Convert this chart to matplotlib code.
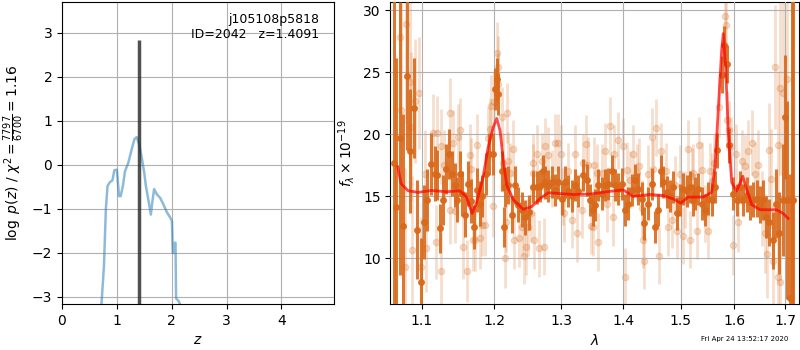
import numpy as np
import matplotlib
matplotlib.use("Agg")
import matplotlib.pyplot as plt
from matplotlib.ticker import FixedLocator, NullLocator, FixedFormatter

# p(z) curve (left panel)
z_grid = [0.72, 0.765, 0.80, 0.83, 0.875, 0.92, 0.955, 1.0, 1.015, 1.04, 1.07, 1.11,
          1.15, 1.21, 1.27, 1.32, 1.36, 1.41, 1.46, 1.50, 1.53, 1.58, 1.62, 1.645,
          1.68, 1.73, 1.79, 1.85, 1.91, 1.975, 2.005, 2.02, 2.035, 2.05, 2.07, 2.08,
          2.13, 2.15]
log_pz = [-3.16, -2.3, -1.0, -0.48, -0.39, -0.35, -0.12, -0.11, -0.33, -0.71, -0.71, -0.48,
          -0.14, 0.05, 0.35, 0.58, 0.63, 0.46, 0.12, -0.18, -0.48, -0.83, -1.13, -0.86,
          -0.55, -0.67, -0.75, -0.9, -1.07, -1.2, -1.28, -2.0, -2.0, -1.77, -1.77, -3.03,
          -3.1, -3.16]
z_best = 1.4091
pz_max = 2.83

# spectrum, first set (dark)
wave1 = [1.0640, 1.0667, 1.0714, 1.0757, 1.0812, 1.0851, 1.0896, 1.0943, 1.0987, 1.1031,
         1.1074, 1.1127, 1.1173, 1.1208, 1.1244, 1.1285, 1.1329, 1.1365, 1.1406, 1.1443,
         1.1475, 1.1512, 1.1544, 1.1590, 1.1631, 1.1673, 1.1711, 1.1749, 1.1791, 1.1828,
         1.1877, 1.1924, 1.1977, 1.2010, 1.2035, 1.2057, 1.2106, 1.2144, 1.2154, 1.2202,
         1.2252, 1.2301, 1.2349, 1.2399, 1.2448, 1.2513, 1.2573, 1.2624, 1.2674, 1.2715,
         1.2751, 1.2801, 1.2853, 1.2904, 1.2956, 1.3009, 1.3060, 1.3111, 1.3165, 1.3217,
         1.3269, 1.3339, 1.3402, 1.3456, 1.3510, 1.3537, 1.3591, 1.3647, 1.3701, 1.3755,
         1.3811, 1.3866, 1.3921, 1.3978, 1.4033, 1.4088, 1.4146, 1.4202, 1.4258, 1.4316,
         1.4356, 1.4430, 1.4489, 1.4546, 1.4604, 1.4645, 1.4691, 1.4750, 1.4809, 1.4868,
         1.4929, 1.4988, 1.5047, 1.5108, 1.5168, 1.5228, 1.5260, 1.5320, 1.5382, 1.5444,
         1.5505, 1.5568, 1.5630, 1.5674, 1.5755, 1.5799, 1.5850, 1.5900, 1.5976, 1.6041,
         1.6104, 1.6168, 1.6235, 1.6299, 1.6364, 1.6430, 1.6495, 1.6561, 1.6615, 1.6680,
         1.6748, 1.6815, 1.6881, 1.6950, 1.6991, 1.7043, 1.7098, 1.7133, 1.7166]
flux1 = [17.7, 14.1, 19.65, 12.6, 24.7, 18.6, 22.1, 12.3, 8.1, 12.9,
         14.7, 17.6, 16.8, 16.7, 12.4, 14.7, 17.2, 18.4, 16.8, 15.9,
         14.7, 16.8, 15.2, 13.5, 16.0, 14.6, 12.5, 15.5, 14.4, 15.0,
         16.8, 18.4, 18.4, 23.6, 24.4, 23.2, 17.0, 12.5, 15.75, 15.9,
         13.5, 15.9, 14.3, 13.9, 13.3, 13.7, 15.75, 15.7, 15.8, 17.0,
         16.1, 15.8, 16.15, 15.5, 16.1, 14.8, 16.15, 15.4, 15.0, 15.9,
         15.4, 16.7, 16.3, 14.7, 13.9, 14.3, 15.9, 15.2, 15.9, 16.0,
         17.0, 15.9, 15.6, 16.0, 13.9, 14.4, 15.5, 16.3, 15.6, 14.8,
         12.8, 14.4, 16.0, 12.5, 13.9, 17.0, 16.15, 15.3, 15.0, 15.75,
         13.6, 14.7, 15.6, 15.4, 15.75, 14.7, 15.2, 15.6, 14.4, 13.9,
         14.8, 14.7, 15.75, 18.7, 24.8, 27.2, 25.65, 19.1, 15.2, 14.7,
         15.75, 14.7, 15.1, 14.5, 14.7, 14.8, 14.3, 14.7, 13.3, 12.9,
         11.45, 14.4, 12.0, 14.7, 21.4, 14.7, 6.75, 14.7, 14.7]
err1 = [14, 12, 11, 9, 6, 5, 4, 4, 3.5, 3,
        2.5, 2.5, 2.2, 2, 2, 2, 2, 2, 1.8, 1.8,
        1.8, 1.8, 1.8, 1.8, 1.8, 1.8, 1.8, 1.8, 1.8, 1.7,
        1.7, 1.7, 1.7, 1.7, 1.7, 1.7, 1.6, 1.6, 1.6, 1.5,
        1.5, 1.5, 1.4, 1.4, 1.4, 1.4, 1.3, 1.3, 1.3, 1.3,
        1.3, 1.3, 1.3, 1.3, 1.3, 1.3, 1.3, 1.3, 1.3, 1.3,
        1.3, 1.3, 1.3, 1.3, 1.3, 1.3, 1.3, 1.3, 1.3, 1.3,
        1.3, 1.3, 1.3, 1.3, 1.3, 1.3, 1.3, 1.3, 1.3, 1.3,
        1.3, 1.3, 1.3, 1.3, 1.3, 1.3, 1.3, 1.3, 1.3, 1.3,
        1.3, 1.3, 1.3, 1.3, 1.3, 1.3, 1.3, 1.3, 1.3, 1.3,
        1.3, 1.3, 1.3, 1.4, 1.5, 1.5, 1.5, 1.4, 1.3, 1.3,
        1.3, 1.3, 1.4, 1.4, 1.4, 1.5, 1.5, 1.6, 1.7, 1.9,
        2.3, 2.8, 3.3, 4.5, 5, 8, 10, 16, 16]

# spectrum, second set (faint)
wave2 = [1.0714, 1.0734, 1.0786, 1.0799, 1.0843, 1.0864, 1.0873, 1.0908, 1.0961, 1.0995,
         1.1040, 1.1061, 1.1150, 1.1194, 1.1208, 1.1253, 1.1261, 1.1297, 1.1375, 1.1383,
         1.1420, 1.1443, 1.1488, 1.1512, 1.1558, 1.1609, 1.1651, 1.1673, 1.1697, 1.1729,
         1.1757, 1.1791, 1.1828, 1.1862, 1.1909, 1.1934, 1.1957, 1.1985, 1.1992, 1.2034,
         1.2045, 1.2057, 1.2106, 1.2129, 1.2154, 1.2168, 1.2187, 1.2202, 1.2227, 1.2276,
         1.2283, 1.2364, 1.2399, 1.2438, 1.2463, 1.2497, 1.2534, 1.2564, 1.2573, 1.2583,
         1.2624, 1.2663, 1.2700, 1.2740, 1.2751, 1.2801, 1.2853, 1.2904, 1.2956, 1.2998,
         1.3024, 1.3044, 1.3111, 1.3165, 1.3217, 1.3253, 1.3323, 1.3349, 1.3386, 1.3429,
         1.3467, 1.3500, 1.3517, 1.3565, 1.3591, 1.3647, 1.3701, 1.3728, 1.3783, 1.3838,
         1.3850, 1.3921, 1.3994, 1.4033, 1.4061, 1.4117, 1.4163, 1.4231, 1.4275, 1.4316,
         1.4333, 1.4361, 1.4430, 1.4489, 1.4516, 1.4563, 1.4621, 1.4645, 1.4738, 1.4779,
         1.4839, 1.4898, 1.4940, 1.4988, 1.5047, 1.5078, 1.5137, 1.5168, 1.5199, 1.5228,
         1.5290, 1.5338, 1.5382, 1.5444, 1.5505, 1.5536, 1.5568, 1.5611, 1.5711, 1.5818,
         1.5837, 1.5862, 1.5900, 1.5926, 1.5965, 1.6028, 1.6072, 1.6137, 1.6201, 1.6266,
         1.6332, 1.6397, 1.6462, 1.6529, 1.6595, 1.6640, 1.6680, 1.6708, 1.6761, 1.6795,
         1.6862, 1.6865, 1.6895, 1.6897, 1.6962, 1.7031]
flux2 = [27.85, 21.9, 9.3, 28.9, 24.2, 20.6, 10.65, 22.7, 23.3, 9.3,
         16.8, 10.8, 20.05, 11.3, 20.05, 19.0, 9.0, 17.5, 13.9, 21.7,
         19.3, 13.8, 19.8, 20.3, 10.9, 9.0, 18.3, 17.2, 11.5, 11.5,
         19.1, 11.6, 12.7, 12.7, 19.65, 20.4, 22.3, 14.2, 22.6, 26.5,
         25.4, 24.0, 21.4, 17.7, 10.0, 12.9, 21.7, 17.8, 16.9, 18.8,
         11.45, 11.6, 12.5, 10.2, 10.9, 12.5, 13.6, 16.9, 17.7, 11.45,
         18.4, 10.8, 17.8, 10.9, 19.0, 18.3, 16.4, 19.3, 19.3, 18.4,
         15.0, 13.6, 17.0, 13.1, 18.4, 12.0, 13.9, 17.7, 19.2, 17.5,
         12.6, 12.5, 17.5, 16.9, 11.3, 16.9, 18.6, 14.4, 20.65, 13.3,
         18.4, 19.5, 19.0, 8.5, 17.1, 16.3, 18.4, 16.9, 17.4, 14.0,
         11.5, 9.8, 16.8, 19.8, 17.2, 20.5, 10.2, 18.6, 17.0, 12.5,
         13.1, 15.9, 12.2, 16.8, 11.8, 14.7, 18.8, 11.5, 16.6, 16.9,
         12.2, 19.1, 17.1, 13.6, 12.2, 17.0, 16.2, 17.7, 22.2, 29.5,
         28.8, 21.1, 20.3, 19.0, 11.05, 18.4, 12.9, 17.8, 17.4, 18.6,
         19.3, 16.8, 17.5, 14.0, 12.0, 10.3, 18.7, 16.4, 9.8, 25.4,
         19.1, 8.5, 23.7, 8.1, 23.3, 24.4]
err2 = [9, 9, 8, 8, 7, 6, 6, 5, 4.5, 4,
        3.5, 3.5, 3.2, 3, 3, 3, 3, 2.8, 2.8, 2.8,
        2.6, 2.6, 2.6, 2.6, 2.6, 2.5, 2.5, 2.5, 2.5, 2.5,
        2.5, 2.5, 2.5, 2.5, 2.5, 2.5, 2.5, 2.5, 2.5, 2.5,
        2.5, 2.5, 2.4, 2.4, 2.4, 2.4, 2.4, 2.4, 2.4, 2.3,
        2.3, 2.3, 2.3, 2.3, 2.3, 2.3, 2.3, 2.3, 2.3, 2.3,
        2.3, 2.3, 2.3, 2.3, 2.3, 2.3, 2.3, 2.3, 2.3, 2.3,
        2.3, 2.3, 2.3, 2.3, 2.3, 2.3, 2.3, 2.3, 2.3, 2.3,
        2.3, 2.3, 2.3, 2.3, 2.3, 2.3, 2.3, 2.3, 2.3, 2.3,
        2.3, 2.3, 2.3, 2.3, 2.3, 2.3, 2.3, 2.3, 2.3, 2.3,
        2.3, 2.3, 2.3, 2.3, 2.3, 2.3, 2.3, 2.3, 2.3, 2.3,
        2.3, 2.3, 2.3, 2.3, 2.3, 2.3, 2.3, 2.3, 2.3, 2.3,
        2.3, 2.3, 2.3, 2.3, 2.3, 2.3, 2.3, 2.3, 2.4, 2.5,
        2.5, 2.4, 2.4, 2.4, 2.4, 2.4, 2.4, 2.5, 2.5, 2.5,
        2.6, 2.6, 2.8, 3, 3.2, 3.5, 3.8, 4, 4.5, 5,
        6, 6, 7, 7, 8, 9]

# best-fit model
wave_m = [1.0689, 1.0730, 1.0821, 1.0952, 1.1127, 1.1329, 1.1512, 1.1603, 1.1683, 1.1743,
          1.1838, 1.1909, 1.1981, 1.2034, 1.2081, 1.2129, 1.2178, 1.2276, 1.2423, 1.2549,
          1.2674, 1.2801, 1.2982, 1.3190, 1.3456, 1.3728, 1.4004, 1.4173, 1.4459, 1.4691,
          1.4868, 1.5001, 1.5138, 1.5412, 1.5568, 1.5630, 1.5692, 1.5757, 1.5787, 1.5833,
          1.5883, 1.5948, 1.6041, 1.6161, 1.6239, 1.6337, 1.6495, 1.6828, 1.6962, 1.7064]
flux_m = [17.36, 16.0, 15.43, 15.3, 15.45, 15.35, 15.43, 14.95, 13.6, 14.4,
          16.5, 18.9, 20.5, 21.26, 20.3, 17.9, 15.9, 14.7, 13.93, 14.15,
          14.8, 15.27, 15.2, 15.13, 15.16, 15.35, 15.5, 14.97, 15.13, 15.05,
          14.78, 14.43, 14.92, 14.92, 15.3, 17.33, 21.9, 26.77, 28.1, 25.4,
          20.1, 16.1, 15.4, 16.6, 15.5, 14.3, 13.9, 13.9, 13.6, 13.2]

wave_ticks = [1.1, 1.2, 1.3, 1.4, 1.5, 1.6, 1.7]

c_spec = '#d9691a'

fig = plt.figure(figsize=(8, 3.5), dpi=100)
ax1 = fig.add_axes([0.0775, 0.1314, 0.34, 0.863])
ax2 = fig.add_axes([0.488, 0.1314, 0.5105, 0.863])

# left: p(z)
ax1.plot(z_grid, log_pz, color='tab:blue', alpha=0.5, lw=1.8)
ax1.vlines(z_best, -3.16, pz_max, color='0.15', alpha=0.8, lw=2.5)
ax1.set_xlim(0, 4.96)
ax1.set_ylim(-3.16, 3.70)
ax1.set_xticks([0, 1, 2, 3, 4])
ax1.set_yticks([-3, -2, -1, 0, 1, 2, 3])
ax1.grid(True)
ax1.set_xlabel('$z$')
ax1.set_ylabel(r'$\log\ p(z)$ / $\chi^2=\frac{7797}{6700}=1.16$')
ax1.text(0.945, 0.965, 'j105108p5818\nID=2042   z=1.4091', transform=ax1.transAxes,
         ha='right', va='top', fontsize=9)

# right: spectrum
ax2.errorbar(wave2, flux2, yerr=err2, marker='o', ms=4.5, linestyle='None',
             color=c_spec, alpha=0.22, elinewidth=2, zorder=2)
ax2.errorbar(wave1, flux1, yerr=err1, marker='o', ms=4, linestyle='None',
             color=c_spec, alpha=0.9, elinewidth=2.2, zorder=3)
ax2.plot(wave_m, flux_m, color='red', alpha=0.7, lw=2, zorder=4)
ax2.set_xscale('log')
ax2.set_xlim(1.0594, 1.7283)
ax2.set_ylim(6.3, 30.65)
ax2.xaxis.set_major_locator(FixedLocator(wave_ticks))
ax2.xaxis.set_major_formatter(FixedFormatter(['%.1f' % w for w in wave_ticks]))
ax2.xaxis.set_minor_locator(NullLocator())
ax2.set_yticks([10, 15, 20, 25, 30])
ax2.set_axisbelow(False)
ax2.grid(True, zorder=5)
ax2.set_xlabel(r'$\lambda$')
ax2.set_ylabel(r'$f_\lambda\times10^{-19}$')

fig.text(0.985, 0.031, 'Fri Apr 24 13:52:17 2020', ha='right', va='center', fontsize=5)

fig.savefig('out.png', dpi=100)
